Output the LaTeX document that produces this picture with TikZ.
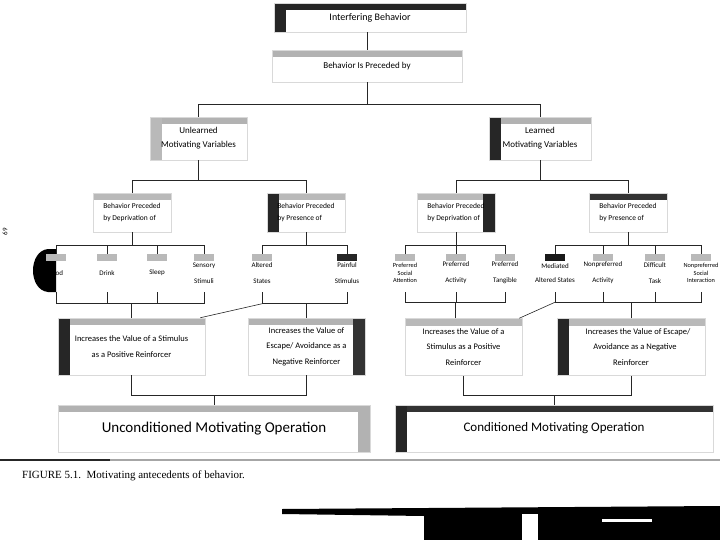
\documentclass[tikz,border=0pt]{standalone}
\usepackage{fontspec}
\setmainfont{Carlito}
\newfontfamily\capfont{Liberation Serif}
\begin{document}
\begin{tikzpicture}[x=1pt,y=-1pt,
  conn/.style={draw=black!85, line width=0.6pt},
  bx/.style={draw=gray!30, line width=0.5pt, align=center, inner sep=1pt},
  bandT/.style={path picture={\fill[#1] (path picture bounding box.north west) rectangle ([yshift=-7pt]path picture bounding box.north east);}},
  bandTL/.style 2 args={path picture={\fill[#1] (path picture bounding box.north west) rectangle ([yshift=-7pt]path picture bounding box.north east);
      \fill[#2] (path picture bounding box.north west) rectangle ([xshift=12pt]path picture bounding box.south west);}},
  bandTR/.style 2 args={path picture={\fill[#1] (path picture bounding box.north west) rectangle ([yshift=-7pt]path picture bounding box.north east);
      \fill[#2] (path picture bounding box.north east) rectangle ([xshift=-12pt]path picture bounding box.south east);}},
  leaf/.style={align=center, minimum width=40pt, minimum height=38pt, inner sep=0pt,
      font=\fontsize{7}{16}\selectfont, leafblob=gray!55},
  leafblob/.style={path picture={\fill[#1] ([xshift=-10pt]path picture bounding box.north) rectangle ([xshift=10pt,yshift=-7pt]path picture bounding box.north);}},
  tight/.style={font=\fontsize{6.3}{7.2}\selectfont},
  midbx/.style={bx, align=left, minimum width=78pt, minimum height=39pt, font=\fontsize{7.5}{12}\selectfont},
  reinf/.style={bx, minimum height=57pt, font=\fontsize{8.5}{15.5}\selectfont},
  mobx/.style={bx, minimum height=47pt}
]
\useasboundingbox (0,0) rectangle (720,540);

% top boxes
\node[bx, bandTL={black!85}{black!85}, minimum width=192pt, minimum height=29pt, font=\fontsize{10}{12}\selectfont] (ib) at (370,17.5) {\raisebox{-2pt}{Interfering Behavior}};
\node[bx, bandT=gray!60, minimum width=190pt, minimum height=32pt, font=\fontsize{9}{11}\selectfont] (bp) at (367,66) {\raisebox{-3pt}{Behavior Is Preceded by}};
\draw[conn] (ib.south -| bp.north) -- (bp.north);

% second level
\node[bx, bandTL={gray!60}{gray!55}, minimum width=97pt, minimum height=43pt, font=\fontsize{9}{14}\selectfont] (ul) at (198.5,138.5) {Unlearned\\Motivating Variables};
\node[bx, bandTL={gray!60}{black!85}, minimum width=102pt, minimum height=43pt, font=\fontsize{9}{14}\selectfont] (lm) at (540,138.5) {Learned\\Motivating Variables};
\draw[conn] (bp.south) -- ++(0,22) coordinate (j1);
\draw[conn] (ul.north) |- (j1);
\draw[conn] (lm.north) |- (j1);

% third level
\node[midbx, bandT=gray!55] (ud) at (132,212.5) {Behavior Preceded\\by Deprivation of};
\node[midbx, bandTL={gray!55}{black!85}] (up) at (306,212.5) {Behavior Preceded\\by Presence of};
\node[midbx, bandTR={gray!55}{black!85}] (ld) at (456,212.5) {Behavior Preceded\\by Deprivation of};
\node[midbx, bandT=black!80] (lp) at (628,212.5) {Behavior Preceded\\by Presence of};
\draw[conn] (ul.south) -- ++(0,20) coordinate (j2);
\draw[conn] (ud.north) |- (j2);
\draw[conn] (up.north) |- (j2);
\draw[conn] (lm.south) -- ++(0,20) coordinate (j3);
\draw[conn] (ld.north) |- (j3);
\draw[conn] (lp.north) |- (j3);

% leaves, unlearned
\fill[black] (56,249) -- (48,249) .. controls (28,251) and (28,290) .. (48,292) -- (56,292) -- cycle;
\node[leaf] (food) at (56,273) {\phantom{Fo}od};
\node[leaf] (drink) at (107,273) {Drink};
\node[leaf] (sleep) at (157,273) {Sleep};
\node[leaf] (sens) at (204,273) {Sensory\\Stimuli};
\node[leaf] (alt) at (262,273) {Altered\\States};
\node[leaf, leafblob=black!85] (pain) at (347,273) {Painful\\Stimulus};
\draw[conn] (ud.south) -- ++(0,13) coordinate (k1);
\foreach \n in {food,drink,sleep,sens} \draw[conn] (\n.north) |- (k1);
\draw[conn] (up.south) -- ++(0,13) coordinate (k2);
\foreach \n in {alt,pain} \draw[conn] (\n.north) |- (k2);

% leaves, learned
\node[leaf, tight] (psa) at (405,273) {Preferred\\Social\\Attention};
\node[leaf] (pac) at (456,273) {Preferred\\Activity};
\node[leaf] (pta) at (505,273) {Preferred\\Tangible};
\node[leaf, leafblob=black!90, font=\fontsize{7}{14}\selectfont] (mas) at (555,273) {Mediated\\Altered States};
\node[leaf] (nac) at (603,273) {Nonpreferred\\Activity};
\node[leaf] (dta) at (655,273) {Difficult\\Task};
\node[leaf, tight] (nsi) at (701,273) {Nonpreferred\\Social\\Interaction};
\draw[conn] (ld.south) -- ++(0,13) coordinate (k3);
\foreach \n in {psa,pac,pta} \draw[conn] (\n.north) |- (k3);
\draw[conn] (lp.south) -- ++(0,13) coordinate (k4);
\foreach \n in {mas,nac,dta,nsi} \draw[conn] (\n.north) |- (k4);

% reinforcer boxes
\node[reinf, bandTL={gray!60}{black!85}, minimum width=147pt] (pl) at (131.5,346.5) {Increases the Value of a Stimulus\\as a Positive Reinforcer};
\node[reinf, bandTR={gray!60}{black!80}, minimum width=117pt] (nl) at (306.5,346.5) {Increases the Value of\\Escape/ Avoidance as a\\Negative Reinforcer};
\node[reinf, bandT=gray!55, minimum width=117pt] (pr) at (463.5,347) {Increases the Value of a\\Stimulus as a Positive\\Reinforcer};
\node[reinf, bandTL={gray!55}{black!85}, minimum width=148pt] (nr) at (631,347) {\hspace*{14pt}Increases the Value of Escape/\\\hspace*{8pt}Avoidance as a Negative\\Reinforcer};

\draw[conn] (pl.north) -- ++(0,-14) coordinate (b1);
\foreach \n in {food,drink,sleep,sens} \draw[conn] (\n.south) |- (b1);
\draw[conn] (nl.north) -- ++(0,-14) coordinate (b2);
\foreach \n in {alt,pain} \draw[conn] (\n.south) |- (b2);
\draw[conn] (alt.south |- b2) -- ([xshift=-5pt]pl.north east);

\draw[conn] ([xshift=-8pt]pr.north) -- ++(0,-16) coordinate (b3);
\foreach \n in {psa,pac,pta} \draw[conn] (\n.south) |- (b3);
\draw[conn] (nr.north) -- ++(0,-16) coordinate (b4);
\foreach \n in {mas,nac,dta,nsi} \draw[conn] (\n.south) |- (b4);
\draw[conn] (mas.south |- b4) -- ([xshift=-3pt]pr.north east);

% motivating operations
\node[mobx, bandTR={gray!60}{gray!60}, minimum width=312pt, font=\fontsize{15}{17}\selectfont] (uc) at (214,428.5) {Unconditioned Motivating Operation};
\node[mobx, bandTL={black!80}{black!85}, minimum width=318pt, font=\fontsize{13}{15}\selectfont] (cc) at (554,428.5) {Conditioned Motivating Operation};
\draw[conn] (uc.north) -- ++(0,-9) coordinate (c1);
\draw[conn] (pl.south) |- (c1);
\draw[conn] (nl.south) |- (c1);
\draw[conn] (cc.north) -- ++(0,-9) coordinate (c2);
\draw[conn] (pr.south) |- (c2);
\draw[conn] (nr.south) |- (c2);

% page rule and caption
\draw[gray!70, line width=1.2pt] (0,460) -- (720,460);
\draw[black!85, line width=1.4pt] (0,460) -- (110,460);
\node[anchor=west, inner sep=0pt, font=\capfont\fontsize{11}{13}\selectfont] (cap) at (22,476) {FIGURE 5.1.\ \ Motivating antecedents of behavior.};

% page number in margin
\node[rotate=90, inner sep=0pt, font=\fontsize{7}{8}\selectfont] (pg) at (5,232) {69};

% dark page edge at bottom
\fill[black] (282,509) -- (720,506) -- (720,540) -- (424,540) -- (424,516) -- (282,514) -- cycle;
\fill[white] (522,514) rectangle (538,540);
\fill[white] (602,519) rectangle (652,522);
\end{tikzpicture}
\end{document}
